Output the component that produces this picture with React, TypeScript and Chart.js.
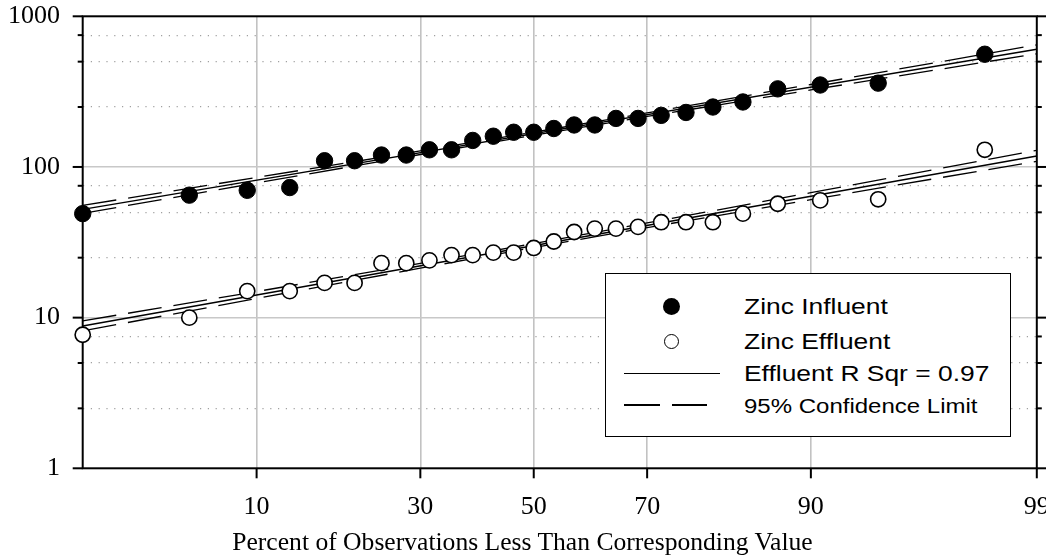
import React, { useEffect, useRef } from 'react';
import { Chart, registerables } from 'chart.js';

Chart.register(...registerables);

// ---- Data ----
// plotting positions, percent of observations less than the value
const percentPositions = [1.85, 5.56, 9.26, 12.96, 16.67, 20.37, 24.07, 27.78, 31.48, 35.19, 38.89, 42.59, 46.3, 50.0, 53.7, 57.41, 61.11, 64.81, 68.52, 72.22, 75.93, 79.63, 83.33, 87.04, 90.74, 94.44, 98.15];
const zincInfluent = [49, 65, 70, 73, 110, 110, 120, 120, 130, 130, 150, 160, 170, 170, 180, 190, 190, 210, 210, 220, 230, 250, 270, 330, 350, 360, 560];
const zincEffluent = [7.7, 10, 15, 15, 17, 17, 23, 23, 24, 26, 26, 27, 27, 29, 32, 37, 39, 39, 40, 43, 43, 43, 49, 57, 60, 61, 130];

// fitted lines (values read at the left and right edges of the plot)
const fitPercents = [1.85, 99];
const influentFit = [52.3, 604];
const effluentFit = [8.81, 118.3];

// 95% confidence limits read at several percents
const limitPercents = [1.85, 10, 30, 50, 70, 90, 99];
const influentUpper = [55.6, 85.2, 127.7, 170.1, 228.4, 352.7, 646];
const influentLower = [49.2, 78.3, 121, 162.5, 216.4, 324.4, 564];
const effluentUpper = [9.51, 14.9, 22.9, 31.0, 42.5, 67.5, 128.9];
const effluentLower = [8.16, 13.4, 21.3, 29.2, 39.6, 60.7, 108.9];

// axes
const xTickPercents = [10, 30, 50, 70, 90, 99];
const xTickLabels = ['10', '30', '50', '70', '90', '99'];
const xMinPercent = 1.85;
const xMaxPercent = 99;
const yMajorTicks = [1, 10, 100, 1000];
const yMinorTicks = [2.5, 5, 7.5, 25, 50, 75, 250, 500, 750];

const legendLabels = ['Zinc Influent', 'Zinc Effluent', 'Effluent R Sqr = 0.97', '95% Confidence Limit'];
const xTitle = 'Percent of Observations Less Than Corresponding Value';

// inverse of the standard normal distribution (probability scale)
function probit(p: number): number {
  const a = [-3.969683028665376e1, 2.209460984245205e2, -2.759285104469687e2, 1.38357751867269e2, -3.066479806614716e1, 2.506628277459239];
  const b = [-5.447609879822406e1, 1.615858368580409e2, -1.556989798598866e2, 6.680131188771972e1, -1.328068155288572e1];
  const c = [-7.784894002430293e-3, -3.223964580411365e-1, -2.400758277161838, -2.549732539343734, 4.374664141464968, 2.938163982698783];
  const d = [7.784695709041462e-3, 3.224671290700398e-1, 2.445134137142996, 3.754408661907416];
  const plow = 0.02425;
  const phigh = 1 - plow;
  if (p < plow) {
    const q = Math.sqrt(-2 * Math.log(p));
    return (((((c[0] * q + c[1]) * q + c[2]) * q + c[3]) * q + c[4]) * q + c[5]) / ((((d[0] * q + d[1]) * q + d[2]) * q + d[3]) * q + 1);
  }
  if (p > phigh) {
    const q = Math.sqrt(-2 * Math.log(1 - p));
    return -(((((c[0] * q + c[1]) * q + c[2]) * q + c[3]) * q + c[4]) * q + c[5]) / ((((d[0] * q + d[1]) * q + d[2]) * q + d[3]) * q + 1);
  }
  const q = p - 0.5;
  const r = q * q;
  return ((((((a[0] * r + a[1]) * r + a[2]) * r + a[3]) * r + a[4]) * r + a[5]) * q) / (((((b[0] * r + b[1]) * r + b[2]) * r + b[3]) * r + b[4]) * r + 1);
}

const pz = (pct: number) => probit(pct / 100);
const toPoints = (pcts: number[], vals: number[]) => vals.map((v, i) => ({ x: pz(pcts[i]), y: v }));

const SERIF = '"Liberation Serif", "Times New Roman", serif';
const SANS = '"Liberation Sans", Arial, sans-serif';

const framePlugin = {
  id: 'frameTicks',
  beforeDatasetsDraw(chart: any) {
    const { ctx, chartArea, scales } = chart;
    const { left, right, top, bottom } = chartArea;
    const x = scales.x;
    const y = scales.y;
    ctx.save();
    ctx.strokeStyle = '#000';
    ctx.lineWidth = 2;
    ctx.strokeRect(left, top, right - left, bottom - top);
    const seg = (x1: number, y1: number, x2: number, y2: number) => {
      ctx.beginPath();
      ctx.moveTo(x1, y1);
      ctx.lineTo(x2, y2);
      ctx.stroke();
    };
    yMajorTicks.forEach((v) => {
      const py = y.getPixelForValue(v);
      seg(left - 10, py, left, py);
      seg(right, py, right + 10, py);
    });
    yMinorTicks.forEach((v) => {
      const py = y.getPixelForValue(v);
      seg(left - 5, py, left, py);
      seg(right, py, right + 5, py);
    });
    xTickPercents.forEach((p) => {
      const px = x.getPixelForValue(pz(p));
      seg(px, bottom, px, bottom + 10);
    });
    ctx.restore();
  },
};

function Legend() {
  const textStyle = (centerY: number, size: number): React.CSSProperties => ({
    position: 'absolute',
    left: 744,
    top: centerY - size / 2,
    height: size,
    lineHeight: `${size}px`,
    fontSize: size,
    fontFamily: SANS,
    color: '#000',
    whiteSpace: 'nowrap',
    transform: 'scaleX(1.2)',
    transformOrigin: 'left center',
  });
  return (
    <>
      <div
        style={{
          position: 'absolute',
          left: 605,
          top: 272.5,
          width: 405.5,
          height: 164.5,
          border: '1.3px solid #000',
          boxSizing: 'border-box',
          background: '#fff',
        }}
      />
      <div style={{ position: 'absolute', left: 671.7 - 8.8, top: 306.7 - 8.8, width: 17.6, height: 17.6, borderRadius: '50%', background: '#000' }} />
      <div style={{ position: 'absolute', left: 671.7 - 7.6, top: 341.7 - 7.6, width: 15.2, height: 15.2, borderRadius: '50%', border: '1.5px solid #000', boxSizing: 'border-box', background: '#fff' }} />
      <div style={{ position: 'absolute', left: 624, top: 372.5, width: 96, height: 1.6, background: '#000' }} />
      <div style={{ position: 'absolute', left: 624, top: 404.3, width: 36, height: 1.4, background: '#000' }} />
      <div style={{ position: 'absolute', left: 672, top: 404.3, width: 35, height: 1.4, background: '#000' }} />
      <div style={textStyle(307, 22)}>{legendLabels[0]}</div>
      <div style={textStyle(342, 22)}>{legendLabels[1]}</div>
      <div style={textStyle(373.5, 22)}>{legendLabels[2]}</div>
      <div style={textStyle(405.5, 20)}>{legendLabels[3]}</div>
    </>
  );
}

export default function App() {
  const canvasRef = useRef<HTMLCanvasElement | null>(null);

  useEffect(() => {
    const canvas = canvasRef.current;
    if (!canvas) return;

    const lineBase = {
      showLine: true,
      pointRadius: 0,
      pointHoverRadius: 0,
      borderColor: '#000',
      fill: false,
      order: 1,
    };

    const chart = new Chart(canvas, {
      type: 'scatter',
      data: {
        datasets: [
          {
            label: legendLabels[0],
            data: toPoints(percentPositions, zincInfluent),
            pointStyle: 'circle',
            pointRadius: 8.2,
            pointBorderWidth: 1,
            pointBackgroundColor: '#000',
            pointBorderColor: '#000',
            clip: false,
            order: 0,
          } as any,
          {
            label: legendLabels[1],
            data: toPoints(percentPositions, zincEffluent),
            pointStyle: 'circle',
            pointRadius: 7.6,
            pointBorderWidth: 1.6,
            pointBackgroundColor: '#fff',
            pointBorderColor: '#000',
            clip: false,
            order: 0,
          } as any,
          { ...lineBase, label: 'Influent fit', data: toPoints(fitPercents, influentFit), borderWidth: 1.5 } as any,
          { ...lineBase, label: legendLabels[2], data: toPoints(fitPercents, effluentFit), borderWidth: 1.5 } as any,
          { ...lineBase, label: 'Influent upper', data: toPoints(limitPercents, influentUpper), borderWidth: 1.3, borderDash: [34, 12] } as any,
          { ...lineBase, label: 'Influent lower', data: toPoints(limitPercents, influentLower), borderWidth: 1.3, borderDash: [34, 12] } as any,
          { ...lineBase, label: legendLabels[3], data: toPoints(limitPercents, effluentUpper), borderWidth: 1.3, borderDash: [34, 12] } as any,
          { ...lineBase, label: 'Effluent lower', data: toPoints(limitPercents, effluentLower), borderWidth: 1.3, borderDash: [34, 12] } as any,
        ],
      },
      options: {
        animation: false,
        responsive: false,
        devicePixelRatio: 1,
        events: [],
        layout: { padding: { top: 16.3, right: 2.7, left: 0, bottom: 0 } },
        plugins: {
          legend: { display: false },
          tooltip: { enabled: false },
          title: { display: false },
        },
        scales: {
          x: {
            type: 'linear',
            bounds: 'data',
            min: pz(xMinPercent),
            max: pz(xMaxPercent),
            afterBuildTicks: (scale: any) => {
              scale.ticks = xTickPercents.map((p) => ({ value: pz(p) }));
            },
            afterFit: (scale: any) => {
              scale.height = 559 - 468.3;
              scale.paddingLeft = 0;
              scale.paddingRight = 0;
            },
            ticks: {
              autoSkip: false,
              maxRotation: 0,
              minRotation: 0,
              padding: 23.5,
              color: '#000',
              font: { family: SERIF, size: 26 },
              callback: (_v: any, i: number) => xTickLabels[i],
            },
            grid: {
              drawTicks: false,
              color: (ctx: any) => (ctx.index < xTickPercents.length - 1 ? '#c2c2c2' : 'rgba(0,0,0,0)'),
              lineWidth: 1.6,
            },
            border: { display: false },
            title: { display: false },
          },
          y: {
            type: 'logarithmic',
            bounds: 'data',
            min: 1,
            max: 1000,
            afterBuildTicks: (scale: any) => {
              scale.ticks = [...yMajorTicks, ...yMinorTicks].sort((a, b) => a - b).map((v) => ({ value: v, major: yMajorTicks.includes(v) }));
            },
            afterFit: (scale: any) => {
              scale.width = 82.7;
              scale.paddingTop = 0;
              scale.paddingBottom = 0;
            },
            ticks: {
              autoSkip: false,
              padding: 22.7,
              color: '#000',
              font: { family: SERIF, size: 26 },
              callback: (v: any) => (yMajorTicks.includes(Number(v)) ? String(v) : ''),
            },
            grid: {
              drawTicks: false,
              color: (ctx: any) => {
                const v = ctx.tick ? ctx.tick.value : 0;
                if (v === 1 || v === 1000) return 'rgba(0,0,0,0)';
                return yMajorTicks.includes(v) ? '#c8c8c8' : '#a0a0a0';
              },
              lineWidth: (ctx: any) => {
                const v = ctx.tick ? ctx.tick.value : 0;
                return yMajorTicks.includes(v) ? 1.6 : 1.2;
              },
            },
            border: {
              display: false,
              dash: (ctx: any) => {
                const v = ctx.tick ? ctx.tick.value : 0;
                return yMajorTicks.includes(v) ? [] : [1.2, 6.6];
              },
            },
          },
        },
      } as any,
      plugins: [framePlugin],
    });

    return () => {
      chart.destroy();
    };
  }, []);

  return (
    <div style={{ position: 'absolute', left: 0, top: 0, width: 1046, height: 559, overflow: 'hidden', background: '#fff' }}>
      <canvas ref={canvasRef} width={1046} height={559} style={{ display: 'block' }} />
      <Legend />
      <div
        style={{
          position: 'absolute',
          left: 0,
          width: 1045,
          top: 527.4,
          height: 30,
          lineHeight: '30px',
          textAlign: 'center',
          fontFamily: SERIF,
          fontSize: 25.6,
          color: '#000',
          whiteSpace: 'nowrap',
        }}
      >
        {xTitle}
      </div>
    </div>
  );
}
